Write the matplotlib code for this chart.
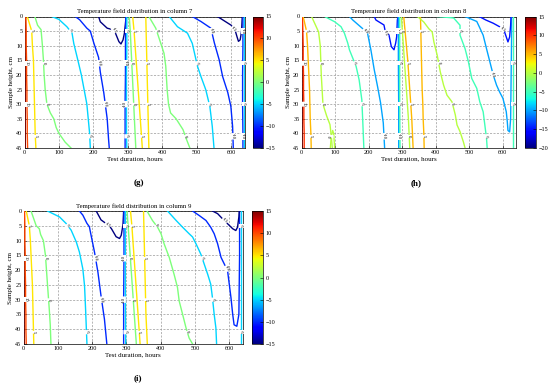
import numpy as np
import matplotlib
matplotlib.use('Agg')
import matplotlib.pyplot as plt
from matplotlib import colors, cm as mcm

plt.rcParams['font.family'] = ['Liberation Serif', 'DejaVu Serif']

D10 = [0, 5, 10, 15, 20, 25, 30, 35, 40, 45]

# ---------------- panel (g): column 7 ----------------
G_LEVELS = [15, 10, 5, 0, -5, -10, -15, -10, -5, 0, 5, 5, 0, -5, -10, -15, -10, -5]
G_HOURS = [
    [1.5, 1.5, 2, 2],
    [4, 5, 5, 6, 6, 7, 7, 8, 8, 9],
    [8, 21, 23, 26, 27, 28, 29, 30, 31, 33],
    [30, 38, 48, 52, 55, 57, 60, 65, 75, 85, 92, 100, 118, 135],
    [79, 100, 123, 138, 143, 155, 165, 173, 181, 185, 189, 191],
    [147, 160, 181, 191, 201, 215, 220, 230, 240, 244, 246],
    [215, 220, 240, 259, 264, 274, 280, 286, 290, 294, 296],
    [294, 293, 293, 292, 292, 292],
    [297, 297, 296, 296, 296, 297],
    [304, 307, 309, 311, 313, 315, 317, 319, 321, 323],
    [314, 318, 321, 324, 327, 330, 333, 336, 339, 342],
    [352, 353, 354, 355, 356, 357, 358, 359, 360, 361],
    [361, 381, 395, 405, 410, 414, 418, 424, 440, 460, 470, 480],
    [420, 444, 473, 487, 502, 512, 526, 538, 545, 550],
    [487, 512, 541, 551, 565, 575, 590, 599, 604, 606],
    [560, 580, 600, 612, 617, 621, 626, 630, 632],
    [634, 634, 633, 633, 634, 634],
    [638, 638, 638, 638],
]
G_DEPTH = [
    [0, 15, 30, 45],
    D10,
    D10,
    [0, 3, 4.5, 10, 15, 20, 25, 30, 33, 35, 38, 40, 43, 45],
    [0, 1, 3.5, 5.7, 9.2, 15, 20, 25, 30, 35, 40, 45],
    [0, 1.1, 4, 5, 9, 14, 19, 26, 35, 42, 45],
    [0, 1.8, 4, 4.6, 5.7, 8.6, 9.4, 8, 5.7, 1.2, 0],
    [0, 10, 20, 30, 40, 45],
    [0, 10, 20, 30, 40, 45],
    D10,
    D10,
    D10,
    [0, 4, 9, 12.6, 17, 25, 30, 33, 35, 38.7, 42, 45],
    [0, 3.5, 5.7, 9.2, 17, 20.5, 25, 30.8, 37.6, 45],
    [0, 1.7, 4, 9, 14.8, 20.5, 26, 30.8, 37.6, 45],
    [0, 1.5, 3, 5, 7, 8.5, 8, 5, 0],
    [0, 10, 20, 30, 40, 45],
    [0, 15, 30, 45],
]

# ---------------- panel (h): column 8 ----------------
H_LEVELS = [15, 10, 5, 0, 0, -5, -10, -15, -10, -5, 0, 5, 5, 0, -5, -10, -15, -5]
H_HOURS = [
    [1, 1, 1.5, 1.5],
    [3, 4, 5, 5, 6, 6, 7, 7, 8, 8],
    [5, 15, 18, 20, 22, 24, 25, 26, 28, 29],
    [30, 42, 51, 56, 59, 64, 75, 85, 88, 92],
    [86, 89, 93, 96, 99],
    [69, 99, 118, 128, 138, 143, 163, 172, 180, 183, 186],
    [143, 153, 187, 197, 207, 217, 227, 236, 244, 248],
    [217, 222, 246, 251, 261, 268, 276, 281, 284, 286, 288],
    [289, 289, 290, 290],
    [293, 293, 293, 294],
    [298, 301, 304, 307, 310, 313, 316, 319, 321, 323],
    [305, 309, 313, 317, 320, 323, 326, 329, 331, 333],
    [355, 356, 357, 358, 359, 360, 362, 363, 365, 366],
    [346, 365, 380, 390, 395, 405, 414, 424, 434, 449, 459, 464, 473, 483, 488],
    [405, 454, 473, 473, 488, 498, 508, 523, 532, 542, 547, 552, 554],
    [488, 523, 532, 542, 552, 562, 572, 582, 591, 601, 611, 614, 616, 621, 624, 625, 626, 627, 627],
    [530, 550, 572, 591, 605, 611, 616, 621, 624, 625],
    [631, 631, 631, 631],
]
H_DEPTH = [
    [0, 15, 30, 45],
    D10,
    D10,
    [0, 3, 5.3, 10, 20, 30, 34, 37, 40, 45],
    [45, 41, 39, 40, 45],
    [0, 1.8, 3.5, 5.7, 9.1, 11.4, 17.1, 21.7, 28.5, 36.4, 45],
    [0, 1.2, 4.6, 5.7, 11.4, 18.2, 24, 29.6, 36.4, 45],
    [0, 1.2, 2.9, 5.7, 6.3, 10.3, 11.4, 9.1, 6.9, 1.2, 0],
    [0, 15, 30, 45],
    [0, 15, 30, 45],
    D10,
    D10,
    D10,
    [0, 1.9, 4.2, 5.3, 8.7, 13.3, 18.9, 23.5, 26.9, 29.2, 33.7, 37.1, 39.4, 42.9, 45],
    [0, 0.5, 3, 6.4, 11, 15.5, 21.2, 24.6, 29.2, 32.6, 37.1, 41.7, 45],
    [0, 1.7, 3.9, 6.4, 11, 15.5, 20, 23.5, 25.8, 28, 32.6, 36, 39, 39.5, 35, 25, 15, 5, 0],
    [0, 1.2, 2.3, 3.5, 5, 7, 8.7, 7, 3, 0],
    [0, 15, 30, 45],
]

# ---------------- panel (i): column 9 ----------------
I_LEVELS = [15, 10, 5, 0, -5, -10, -15, -10, -5, 0, 5, 5, 0, -5, -10, -15, -5]
I_HOURS = [
    [1, 1, 1.5, 1.5],
    [3, 4, 4, 5, 5, 6, 6, 7, 7, 8],
    [8, 17, 20, 22, 24, 26, 27, 28, 29, 30],
    [22, 31, 37, 46, 50, 58, 64, 70, 75, 78, 80],
    [70, 105, 124, 139, 154, 163, 173, 178, 181, 185],
    [163, 173, 185, 192, 197, 207, 217, 226, 236, 243],
    [212, 226, 246, 256, 270, 280, 285, 290, 292],
    [293, 293, 292, 292],
    [297, 297, 297, 298],
    [302, 305, 308, 311, 314, 317, 320, 323, 326, 329],
    [312, 316, 319, 322, 325, 328, 331, 334, 337, 340],
    [350, 351, 352, 353, 354, 355, 356, 357, 359, 361],
    [360, 376, 391, 401, 410, 425, 439, 449, 454, 464, 474, 483, 493],
    [420, 445, 464, 483, 493, 503, 517, 527, 537, 546, 551, 556, 561, 563],
    [493, 512, 532, 546, 556, 566, 576, 595, 600, 605, 610, 614, 622, 628, 629, 630, 630, 630],
    [551, 566, 580, 595, 610, 619, 624, 628, 629],
    [635, 635, 635, 635],
]
I_DEPTH = [
    [0, 15, 30, 45],
    D10,
    D10,
    [0, 3, 5, 6, 8, 10, 15, 25, 33, 38.5, 45],
    [0, 2, 4.2, 6.5, 10.5, 13.9, 19.6, 25.3, 33.2, 45],
    [0, 1.4, 4.2, 5.3, 8.2, 13.9, 20.7, 28.7, 36.6, 45],
    [0, 3, 4.7, 5.9, 8.7, 9.3, 8.2, 4.7, 0],
    [0, 15, 30, 45],
    [0, 15, 30, 45],
    D10,
    D10,
    D10,
    [0, 3.2, 5.5, 7.7, 11.1, 15.7, 21.4, 25.9, 30.5, 35, 39.6, 43, 45],
    [0, 3.2, 5.5, 7.7, 8.8, 11.1, 14.6, 18, 21.4, 24.8, 29.4, 35, 39.6, 45],
    [0, 1.5, 3.2, 5.5, 7.7, 11.1, 15.7, 20.2, 24.8, 29.4, 35, 38.5, 39, 35, 25, 15, 5, 0],
    [0, 0.9, 2.6, 4.3, 6, 6.6, 5.5, 2, 0],
    [0, 15, 30, 45],
]

X_TICKS = [0, 100, 200, 300, 400, 500, 600]
Y_TICKS = [0, 5, 10, 15, 20, 25, 30, 35, 40, 45]

W, H = 550, 386
fig = plt.figure(figsize=(5.5, 3.86), dpi=100)


def rect(l, t, r, b):
    return [l / W, 1 - b / H, (r - l) / W, (b - t) / H]


def add_labels(ax, idx, lev, hx, dy):
    if lev >= 15:
        return
    hx = np.asarray(hx, float)
    dy = np.asarray(dy, float)
    mx = dy.max()
    if mx >= 42:
        targets = [5, 41] if idx % 2 == 0 else [16, 30]
    else:
        targets = [max(mx * 0.5, 1.5)]
    for target in targets:
        for k in range(len(dy) - 1):
            d0, d1 = dy[k], dy[k + 1]
            if (d0 - target) * (d1 - target) <= 0 and d0 != d1:
                f = (target - d0) / (d1 - d0)
                x = hx[k] + f * (hx[k + 1] - hx[k])
                p0 = ax.transData.transform((hx[k], d0))
                p1 = ax.transData.transform((hx[k + 1], d1))
                ang = np.degrees(np.arctan2(p1[1] - p0[1], p1[0] - p0[0]))
                if ang > 90:
                    ang -= 180
                if ang < -90:
                    ang += 180
                ax.text(x, target, '%d' % lev, rotation=ang, fontsize=3.3,
                        ha='center', va='center', rotation_mode='anchor',
                        bbox=dict(boxstyle='square,pad=0.05', fc='white', ec='none'),
                        zorder=4)
                break


def panel(axr, caxr, levels, hours, depth, vmin, vmax, cticks, title, tag, tagxy):
    ax = fig.add_axes(rect(*axr))
    cax = fig.add_axes(rect(*caxr))
    cmap = plt.get_cmap('jet')
    norm = colors.Normalize(vmin, vmax)
    ax.set_xlim(0, 640)
    ax.set_ylim(45, 0)
    for lev, hx, dy in zip(levels, hours, depth):
        ax.plot(hx, dy, color=cmap(norm(lev)), lw=1.0, zorder=3)
    for i, (lev, hx, dy) in enumerate(zip(levels, hours, depth)):
        add_labels(ax, i, lev, hx, dy)
    ax.set_xticks(X_TICKS)
    ax.set_yticks(Y_TICKS)
    ax.grid(True, color='#999999', lw=0.5, dashes=(3, 2))
    ax.tick_params(direction='in', length=2, width=0.4, labelsize=4.4, pad=1.5)
    for s in ax.spines.values():
        s.set_linewidth(0.5)
    ax.set_title(title, fontsize=4.9, pad=2.5)
    ax.set_xlabel('Test duration, hours', fontsize=5, labelpad=1)
    ax.set_ylabel('Sample height, cm', fontsize=5, labelpad=1.5)
    cb = fig.colorbar(mcm.ScalarMappable(norm=norm, cmap=cmap), cax=cax, ticks=cticks)
    cb.outline.set_linewidth(0.5)
    cax.tick_params(direction='in', length=2, width=0.4, labelsize=4.4, pad=2)
    fig.text(tagxy[0] / W, 1 - tagxy[1] / H, tag, fontsize=6.5, fontweight='bold',
             ha='center', va='center')


panel((24.5, 16.5, 245, 148), (253, 16.5, 263, 148), G_LEVELS, G_HOURS, G_DEPTH,
      -15, 15, [-15, -10, -5, 0, 5, 10, 15],
      'Temperature field distribution in column 7', '(g)', (139, 183))
panel((301.5, 16.5, 516, 148), (525, 16.5, 535.5, 148), H_LEVELS, H_HOURS, H_DEPTH,
      -20, 15, [-20, -15, -10, -5, 0, 5, 10, 15],
      'Temperature field distribution in column 8', '(h)', (416, 183))
panel((23.5, 211, 243, 344), (252, 211, 263, 344), I_LEVELS, I_HOURS, I_DEPTH,
      -15, 15, [-15, -10, -5, 0, 5, 10, 15],
      'Temperature field distribution in column 9', '(i)', (138, 378))

fig.savefig('out.png', dpi=100)
